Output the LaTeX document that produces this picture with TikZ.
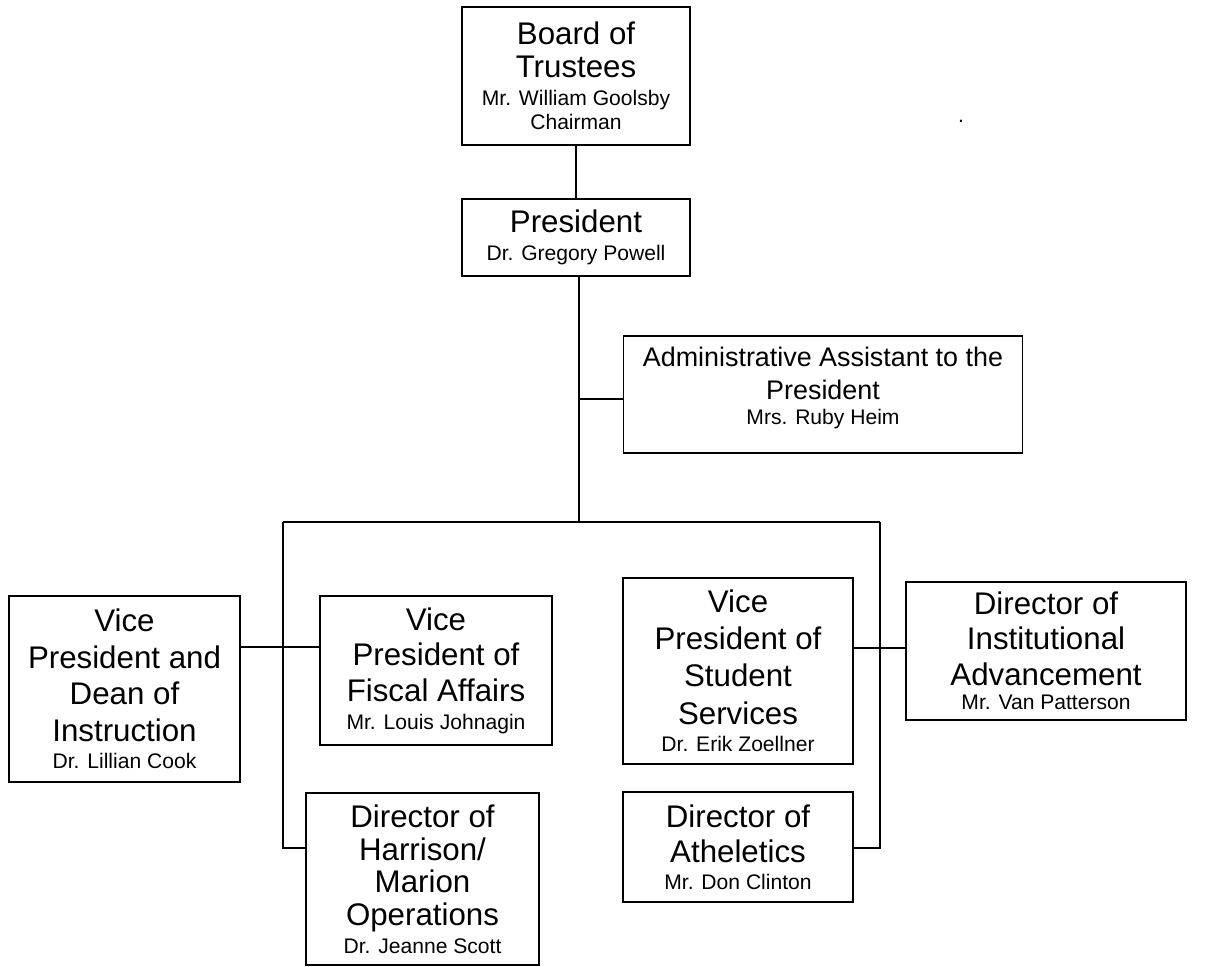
\documentclass[tikz,border=0pt]{standalone}
\usepackage{fontspec}
\setmainfont{Liberation Sans}
\newcommand\nm{\fontsize{12}{13.6}\selectfont}
\tikzset{
  post/.style={draw, line width=1.1pt, inner sep=0pt, align=center,
    font=\fontsize{17.8}{20.1}\selectfont},
}
\begin{document}
\begin{tikzpicture}[x=0.02cm,y=-0.02cm,line width=1.1pt]
    \useasboundingbox (0,0) rectangle (1212,966);
    % top of the chart
    \node[post,minimum width=228*0.02cm,minimum height=138*0.02cm] (board) at (576,76)
        {Board of\\[-1.4pt]Trustees\\[-4.2pt]\nm Mr. William Goolsby\\[-6.2pt]\nm Chairman};
    \node[post,minimum width=228*0.02cm,minimum height=77*0.02cm] (pres) at (576,237.5)
        {President\\[-4.2pt]\nm Dr. Gregory Powell};
    \node[post,minimum width=399*0.02cm,minimum height=117*0.02cm,
        font=\fontsize{15.3}{19.2}\selectfont,text depth=10pt] (admin) at (823,394.5)
        {Administrative Assistant to the\\President\\[-5pt]\nm Mrs. Ruby Heim};
    \node[font=\nm] (dot) at (961,121) {.};
    % vice presidents and directors
    \node[post,minimum width=231*0.02cm,minimum height=186*0.02cm] (dean) at (124.5,689)
        {Vice\\[0.8pt]President and\\[0.8pt]Dean of\\[0.8pt]Instruction\\[-4.6pt]\nm Dr. Lillian Cook};
    \node[post,minimum width=232*0.02cm,minimum height=149*0.02cm] (fiscal) at (436,670.5)
        {Vice\\[0.3pt]President of\\[0.3pt]Fiscal Affairs\\[-4.4pt]\nm Mr. Louis Johnagin};
    \node[post,minimum width=233*0.02cm,minimum height=172*0.02cm] (harr) at (422.5,879)
        {Director of\\[-1.4pt]Harrison/\\[-1.4pt]Marion\\[-1.4pt]Operations\\[-4.4pt]\nm Dr. Jeanne Scott};
    \node[post,minimum width=230*0.02cm,minimum height=186*0.02cm] (student) at (738,671)
        {Vice\\[1pt]President of\\[1pt]Student\\[1pt]Services\\[-4.4pt]\nm Dr. Erik Zoellner};
    \node[post,minimum width=280*0.02cm,minimum height=138*0.02cm] (inst) at (1046,651)
        {Director of\\Institutional\\Advancement\\[-6pt]\nm Mr. Van Patterson};
    \node[post,minimum width=230*0.02cm,minimum height=110*0.02cm] (athl) at (738,847)
        {Director of\\Atheletics\\[-4.8pt]\nm Mr. Don Clinton};
    % connectors
    \coordinate (bus) at (579,522);
    \coordinate (busL) at (283,522);
    \coordinate (busR) at (880,522);
    \coordinate (asst) at (579,399);
    \coordinate (vpL) at (283,647);
    \coordinate (vpR) at (880,648);
    \coordinate (dirL) at (283,848);
    \coordinate (dirR) at (880,848);
    \draw (board) -- (pres);
    \draw (pres.south -| bus) -- (bus);
    \draw (asst) -- (asst -| admin.west);
    \draw (busL) -- (busR);
    \draw (busL) -- (dirL) -- (dirL -| harr.west);
    \draw (busR) -- (dirR) -- (dirR -| athl.east);
    \draw (vpL -| dean.east) -- (vpL -| fiscal.west);
    \draw (vpR -| student.east) -- (vpR -| inst.west);
\end{tikzpicture}
\end{document}
